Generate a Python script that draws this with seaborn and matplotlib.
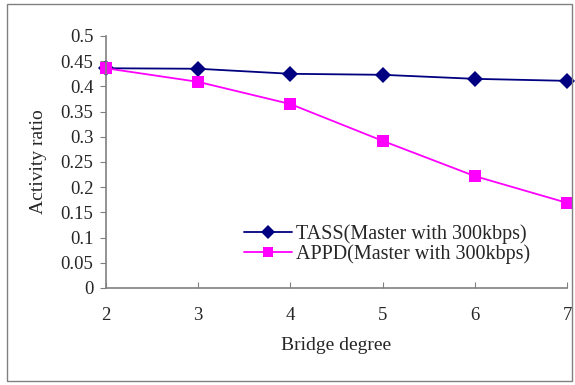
import matplotlib
matplotlib.use("Agg")
import matplotlib.pyplot as plt
import seaborn as sns
import pandas as pd
from matplotlib.patches import Rectangle

bridge_degree = [2, 3, 4, 5, 6, 7]
tass = [0.436, 0.435, 0.425, 0.423, 0.415, 0.411]
appd = [0.436, 0.409, 0.365, 0.292, 0.222, 0.169]
series_names = ["TASS(Master with 300kbps)", "APPD(Master with 300kbps)"]
y_ticks = [0, 0.05, 0.1, 0.15, 0.2, 0.25, 0.3, 0.35, 0.4, 0.45, 0.5]
y_tick_labels = ["0", "0.05", "0.1", "0.15", "0.2", "0.25", "0.3", "0.35", "0.4", "0.45", "0.5"]

df = pd.DataFrame({
    "x": bridge_degree * 2,
    "y": tass + appd,
    "series": [series_names[0]] * len(tass) + [series_names[1]] * len(appd),
})

sns.set_style("white")
plt.rcParams["font.family"] = ["Liberation Serif", "DejaVu Serif"]

fig = plt.figure(figsize=(5.75, 3.85), dpi=100)
ax = fig.add_axes([106/575, 1-288/385, (567-106)/575, (288-36)/385])

sns.lineplot(data=df, x="x", y="y", hue="series", style="series",
             palette={series_names[0]: "#000080", series_names[1]: "#FF00FF"},
             markers={series_names[0]: "D", series_names[1]: "s"},
             dashes=False, markersize=8, linewidth=1.3,
             markeredgewidth=0, ax=ax, clip_on=False)

ax.set_xlim(2, 7)
ax.set_ylim(0, 0.5)
ax.set_xticks(bridge_degree)
ax.set_xticklabels([str(v) for v in bridge_degree])
ax.set_yticks(y_ticks)
ax.set_yticklabels(y_tick_labels)
ax.set_xlabel("Bridge degree", fontsize=14, labelpad=9)
ax.set_ylabel("Activity ratio", fontsize=14, labelpad=10)

for s in ["top", "right"]:
    ax.spines[s].set_visible(False)
for s in ["left", "bottom"]:
    ax.spines[s].set_color("#808080")
    ax.spines[s].set_linewidth(1.2)
ax.tick_params(axis="y", direction="out", length=4, color="#808080", labelsize=13.5, pad=5, left=True)
ax.tick_params(axis="x", direction="in", length=4, color="#808080", labelsize=13.5, pad=14, bottom=True)
ax.set_facecolor("white")

leg = ax.legend(loc="center left", bbox_to_anchor=(234/575, 1-244/385),
                bbox_transform=fig.transFigure, frameon=False, fontsize=14.5,
                handlelength=2.4, handletextpad=0.2, labelspacing=0.0, borderpad=0,
                markerscale=0.85)

fig.patches.append(Rectangle((7/575, 4/385), 565/575, 377/385, transform=fig.transFigure,
                             fill=False, edgecolor="#808080", linewidth=1.0))

fig.savefig("out.png", dpi=100, facecolor="white")
